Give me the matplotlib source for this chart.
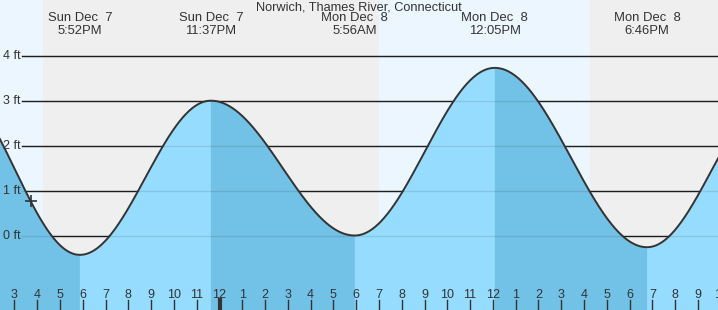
import matplotlib.pyplot as plt
import matplotlib.transforms as mtransforms
import numpy as np

plt.rcParams['font.family'] = ['Liberation Sans', 'DejaVu Sans']

# tide extremes, hours since Sun Dec 7 00:00 (first and last are off-screen estimates)
tide_hours = [12.17, 17.867, 23.617, 29.933, 36.083, 42.767, 48.37]
tide_ft = [3.37, -0.43, 3.0, 0.0, 3.73, -0.26, 3.1]
tide_labels = [None, 'Sun Dec  7\n5:52PM', 'Sun Dec  7\n11:37PM', 'Mon Dec  8\n5:56AM',
               'Mon Dec  8\n12:05PM', 'Mon Dec  8\n6:46PM', None]

# sunset / sunrise / sunset
sun_hours = [16.27, 31.0, 40.27]
now_hour = 15.71

y_ticks = [0, 1, 2, 3, 4]
hour_ticks = list(range(15, 47))

x0, x1 = 14.3635, 45.882
y0, y1 = -1.657, 5.24

night = '#efefef'
day = '#ebf6fe'
rise_col = '#96dcfe'
fall_col = '#72c1e6'

fig = plt.figure(figsize=(7.18, 3.10), dpi=100)
ax = fig.add_axes([0, 0, 1, 1])
ax.set_xlim(x0, x1)
ax.set_ylim(y0, y1)
ax.axis('off')

# day / night bands
edges = [x0] + sun_hours + [x1]
for i in range(len(edges) - 1):
    ax.axvspan(edges[i], edges[i + 1], color=day if i % 2 == 0 else night, lw=0, zorder=0)

# grid lines start just after the label
trans = mtransforms.blended_transform_factory(ax.transAxes, ax.transData)
for v in y_ticks:
    ax.plot([22 / 718, 1], [v, v], color='#222222', lw=1, transform=trans, zorder=1)
    ax.plot([22 / 718, 1], [v, v], color='#000000', lw=1, alpha=0.1, transform=trans, zorder=3)
    ax.text(3 / 718, v, f'{v} ft', transform=trans, ha='left', va='center',
            fontsize=9, color='#333333', zorder=4)

# tide curve, one cosine half-wave between each high and low
curve_t, curve_h = [], []
for i in range(len(tide_hours) - 1):
    a, b = tide_hours[i], tide_hours[i + 1]
    ta = np.linspace(a - 0.02, b + 0.02, 300)
    f = np.clip((ta - a) / (b - a), 0, 1)
    ha = tide_ft[i] + (tide_ft[i + 1] - tide_ft[i]) * (1 - np.cos(np.pi * f)) / 2
    col = fall_col if tide_ft[i + 1] < tide_ft[i] else rise_col
    ax.fill_between(ta, y0, ha, color=col, lw=0, zorder=2)
    keep = (ta >= a) & (ta <= b)
    curve_t.append(ta[keep])
    curve_h.append(ha[keep])
curve_t = np.concatenate(curve_t)
curve_h = np.concatenate(curve_h)
ax.plot(curve_t, curve_h, color='#333333', lw=1.4, zorder=4)

# current time marker
now_ft = np.interp(now_hour, curve_t, curve_h)
ax.plot(now_hour, now_ft, marker='+', ms=8, mew=1.2, color='#333333', zorder=5)

# header labels
ax.text(0.5, 1 - 7 / 310, 'Norwich, Thames River, Connecticut', transform=ax.transAxes,
        ha='center', va='center', fontsize=9.2, color='#333333')
tx = mtransforms.blended_transform_factory(ax.transData, ax.transAxes)
for hr, lab in zip(tide_hours, tide_labels):
    if lab is None:
        continue
    top, bot = lab.split('\n')
    ax.text(hr, 1 - 18 / 310, top, transform=tx, ha='center', va='center',
            fontsize=9.4, color='#333333')
    ax.text(hr, 1 - 31 / 310, bot, transform=tx, ha='center', va='center',
            fontsize=9.4, color='#333333')

# hour ticks along the bottom
for hr in hour_ticks:
    lab = str((hr - 1) % 12 + 1)
    ax.text(hr, 1 - 295 / 310, lab, transform=tx, ha='center', va='center',
            fontsize=9, color='#333333', zorder=5)
    lw = 3 if hr % 24 == 0 else 1
    ax.plot([hr, hr], [0, 10 / 310], transform=tx, color='#333333', lw=lw, zorder=5)

fig.savefig('out.png', dpi=100)
